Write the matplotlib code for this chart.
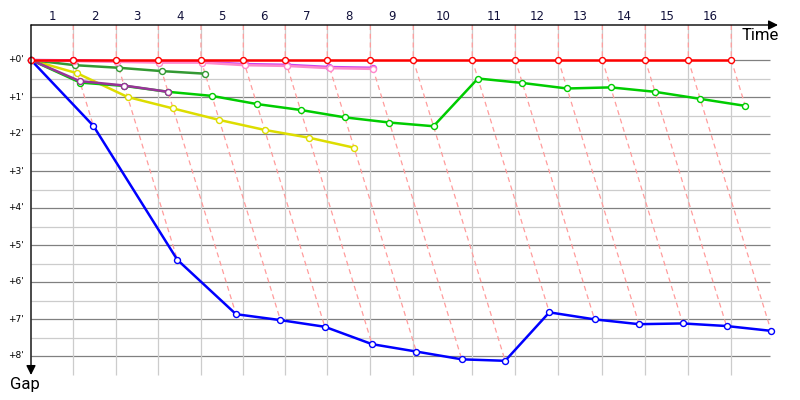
import numpy as np
import matplotlib
matplotlib.use("Agg")
import matplotlib.pyplot as plt


# ----------------------------
# Data (minutes)
# ----------------------------

# leader lap completion times
lap_times = [
    3.74, 7.55, 11.27, 15.04, 18.79, 22.50, 26.22, 30.03,
    33.83, 39.05, 42.86, 46.67, 50.56, 54.36, 58.17, 61.97
]

lap_labels = [str(i) for i in range(1, 17)]

gap_ticks = [0, 1, 2, 3, 4, 5, 6, 7, 8]
gap_tick_labels = ["+%d'" % g for g in gap_ticks]

# gap to leader at the end of each lap
red = [0.0] * 16
pink = [0.03, 0.05, 0.07, 0.07, 0.14, 0.16, 0.22, 0.24]
magenta = [0.01, 0.03, 0.05, 0.05, 0.11, 0.13, 0.19, 0.21]
dark_green = [0.14, 0.21, 0.30, 0.37]
purple = [0.57, 0.69, 0.86]
green = [0.61, 0.70, 0.86, 0.97, 1.19, 1.35, 1.55, 1.69,
         1.79, 0.50, 0.62, 0.77, 0.74, 0.86, 1.05, 1.24]
yellow = [0.36, 1.00, 1.31, 1.62, 1.89, 2.10, 2.37]
blue = [1.78, 5.40, 6.87, 7.03, 7.21, 7.68, 7.88, 8.09,
        8.13, 6.82, 7.01, 7.14, 7.12, 7.19, 7.32]

# drawing order, back to front
riders = [
    (blue, "#0000ff"),
    (yellow, "#dddd00"),
    (green, "#00cc00"),
    (purple, "#993399"),
    (dark_green, "#339933"),
    (magenta, "#cc44ee"),
    (pink, "#ff88cc"),
    (red, "#ff0000"),
]


# ----------------------------
# Figure: pixel-like mapping
# ----------------------------

PX_X = 11.3   # px per minute (time)
PX_Y = 37.0   # px per minute (gap)


def tx(px):
    return (px - 31) / PX_X


def gy(py):
    return (py - 60) / PX_Y


fig = plt.figure(figsize=(8, 4), dpi=100)
ax = fig.add_axes([0, 0, 1, 1])
ax.set_xlim(tx(0), tx(800))
ax.set_ylim(gy(400), gy(0))
ax.axis("off")

x_end = tx(770)
y_top = gy(25)
y_bot = gy(375)

# grid
for g in np.arange(0, 8.01, 0.5):
    major = float(g).is_integer()
    ax.hlines(g, 0, x_end,
              color="#808080" if major else "#cccccc",
              lw=0.9, zorder=1)

ax.vlines(lap_times, y_top, y_bot, color="#cccccc", lw=0.9, zorder=1)

# dashed lap lines: leader point -> last rider on that lap
for k, t in enumerate(lap_times):
    gmax = max(r[k] for r, _ in riders if len(r) > k)
    ax.plot([t, t, t + gmax],
            [y_top, 0, gmax],
            color="#ff9c9c", lw=0.9, ls=(0, (4, 3)), zorder=2)

# riders
lap_arr = np.array(lap_times)
for gaps, col in riders:
    n = len(gaps)
    g = np.array(gaps)
    xs = np.concatenate([[0], lap_arr[:n] + g])
    ys = np.concatenate([[0], g])
    ax.plot(xs, ys, color=col, lw=1.8, marker="o", ms=4.3,
            mfc="white", mec=col, mew=1.0, zorder=3,
            solid_joinstyle="round")

# axes with arrows
ax.annotate("", xy=(tx(778), y_top), xytext=(0, y_top),
            arrowprops=dict(arrowstyle="-|>", color="black", lw=1,
                            mutation_scale=14, shrinkA=0, shrinkB=0),
            zorder=5)
ax.annotate("", xy=(0, y_bot), xytext=(0, y_top),
            arrowprops=dict(arrowstyle="-|>", color="black", lw=1,
                            mutation_scale=14, shrinkA=0, shrinkB=0),
            zorder=5)

# lap numbers
prev = 0
for t, lab in zip(lap_times, lap_labels):
    ax.text((prev + t) / 2, gy(17), lab, ha="center", va="center",
            fontsize=8.5, color="#10103a", family="DejaVu Sans")
    prev = t

# gap labels
for g, lab in zip(gap_ticks, gap_tick_labels):
    ax.text(tx(24), g, lab, ha="right", va="center",
            fontsize=6.5, color="black", family="DejaVu Sans")

ax.text(tx(760), gy(35), "Time", ha="center", va="center",
        fontsize=12, family="Roboto", color="black")
ax.text(tx(25), gy(385), "Gap", ha="center", va="center",
        fontsize=12, family="Roboto", color="black")

fig.savefig("out.png", dpi=100, facecolor="white")
